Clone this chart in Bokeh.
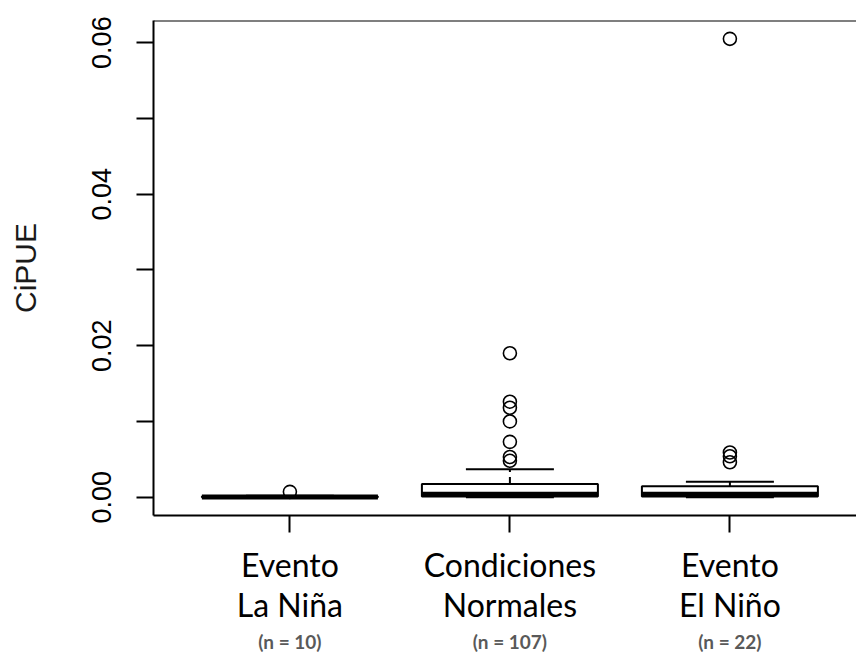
from bokeh.plotting import figure
from bokeh.models import FixedTicker, Span, Range1d, LinearAxis
from bokeh.embed import file_html
from bokeh.resources import INLINE

# ---- data ----
categories = ["Evento La Niña", "Condiciones Normales", "Evento El Niño"]
label_line1 = ["Evento", "Condiciones", "Evento"]
label_line2 = ["La Niña", "Normales", "El Niño"]
n_labels = ["(n = 10)", "(n = 107)", "(n = 22)"]
positions = [1, 2, 3]

whisker_low = [0.0, 0.0, 0.0]
q1 = [0.0, 0.0001, 0.0001]
median = [0.00002, 0.00037, 0.00037]
q3 = [0.0001, 0.00175, 0.00145]
whisker_high = [0.0002, 0.0037, 0.00205]

outliers_lanina = [0.0007]
outliers_normales = [0.0190, 0.0126, 0.0118, 0.0100, 0.0073, 0.0053, 0.0048]
outliers_elnino = [0.0605, 0.0059, 0.0054, 0.0046]

y_ticks = [0.0, 0.01, 0.02, 0.03, 0.04, 0.05, 0.06]
y_tick_labels = ["0.00", "", "0.02", "", "0.04", "", "0.06"]

# ---- layout ----
W, H = 856, 655
ML, MR, MT, MB = 153, 0, 20, 138
y0, y1 = -0.00242, 0.06292
x0 = 0.38
px_per_x = 220.0
x1 = x0 + (W - ML - MR) / px_per_x

p = figure(width=W, height=H, x_range=Range1d(x0, x1), y_range=Range1d(y0, y1),
           output_backend="svg", toolbar_location=None,
           min_border_left=ML, min_border_right=MR, min_border_top=MT, min_border_bottom=MB)
p.grid.grid_line_color = None
p.outline_line_color = None
p.background_fill_color = "white"
p.border_fill_color = "white"

LW = 2
# y axis
ya = p.yaxis[0]
ya.ticker = FixedTicker(ticks=y_ticks)
ya.major_label_overrides = {t: l for t, l in zip(y_ticks, y_tick_labels)}
ya.major_label_orientation = "vertical"
ya.major_label_text_font = "Liberation Sans"
ya.major_label_text_font_size = "27px"
ya.major_label_text_color = "black"
ya.major_label_standoff = 25
ya.major_tick_out = 17
ya.major_tick_in = 0
ya.major_tick_line_width = LW
ya.minor_tick_line_color = None
ya.axis_line_width = LW
ya.axis_label = "CiPUE"
ya.axis_label_text_font = "Liberation Sans"
ya.axis_label_text_font_size = "30px"
ya.axis_label_text_font_style = "normal"
ya.axis_label_text_color = "#1a1a1a"
ya.axis_label_standoff = 48

# x axis: category names (two lines)
xa = p.xaxis[0]
xa.ticker = FixedTicker(ticks=positions)
xa.major_label_overrides = {x: f"{a}\n{b}" for x, a, b in zip(positions, label_line1, label_line2)}
xa.major_label_text_font = "Lato"
xa.major_label_text_font_size = "32px"
xa.major_label_text_color = "black"
xa.major_label_text_align = "center"
xa.major_label_text_line_height = 1.05
xa.major_label_standoff = 12
xa.major_tick_out = 17
xa.major_tick_in = 0
xa.major_tick_line_width = LW
xa.minor_tick_line_color = None
xa.axis_line_width = LW

# second x axis below: sample sizes
na = LinearAxis(ticker=FixedTicker(ticks=positions),
                major_label_overrides={x: t for x, t in zip(positions, n_labels)},
                major_label_text_font="Lato", major_label_text_font_size="19px",
                major_label_text_font_style="bold", major_label_text_color="#595959",
                major_label_standoff=2, axis_line_color=None,
                major_tick_line_color=None, minor_tick_line_color=None,
                major_tick_out=0, major_tick_in=0)
p.add_layout(na, "below")

# top border of the box
p.add_layout(Span(location=y1, dimension="width", line_color="black", line_width=LW))

# ---- boxplots ----
half = 0.4
cap = 0.2
xs = positions
p.segment(x0=xs, y0=q3, x1=xs, y1=whisker_high, line_color="black", line_width=LW, line_dash="7 5")
p.segment(x0=xs, y0=whisker_low, x1=xs, y1=q1, line_color="black", line_width=LW, line_dash="7 5")
p.segment(x0=[x - cap for x in xs], y0=whisker_high, x1=[x + cap for x in xs], y1=whisker_high,
          line_color="black", line_width=LW)
p.segment(x0=[x - cap for x in xs], y0=whisker_low, x1=[x + cap for x in xs], y1=whisker_low,
          line_color="black", line_width=LW)
p.quad(left=[x - half for x in xs], right=[x + half for x in xs], bottom=q1, top=q3,
       fill_color="white", line_color="black", line_width=LW)
p.segment(x0=[x - half for x in xs], y0=median, x1=[x + half for x in xs], y1=median,
          line_color="black", line_width=5, line_cap="butt")

out_x, out_y = [], []
for x, vals in zip(xs, [outliers_lanina, outliers_normales, outliers_elnino]):
    out_x += [x] * len(vals)
    out_y += vals
p.scatter(x=out_x, y=out_y, marker="circle", size=13, fill_color=None,
          line_color="black", line_width=1.6)

open("out.html", "w").write(file_html(p, INLINE))
